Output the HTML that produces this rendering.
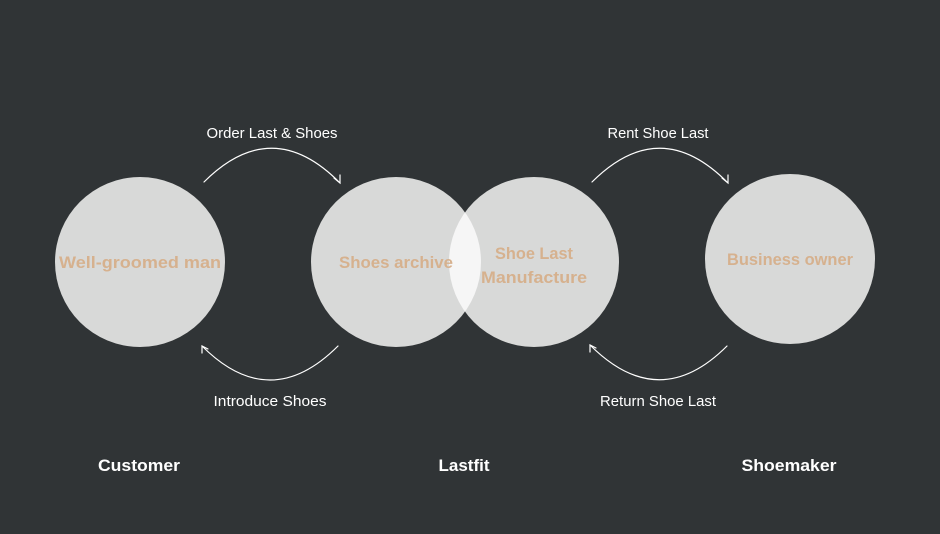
<!DOCTYPE html>
<html><head><meta charset="utf-8"><style>
html,body{margin:0;padding:0;background:#303436;}
svg{display:block}
</style></head><body>
<svg width="940" height="534" xmlns="http://www.w3.org/2000/svg">
<defs><clipPath id="c2"><circle cx="396" cy="262" r="85"/></clipPath></defs>
<rect width="940" height="534" fill="#303436"/>
<circle cx="140" cy="262" r="85" fill="#d8d9d8"/>
<circle cx="396" cy="262" r="85" fill="#d8d9d8"/>
<circle cx="534" cy="262" r="85" fill="#d8d9d8"/>
<circle cx="534" cy="262" r="85" fill="#f6f6f6" clip-path="url(#c2)"/>
<circle cx="790" cy="259" r="85" fill="#d8d9d8"/>
<g fill="none" stroke="#ffffff" stroke-width="1.2" stroke-linecap="round">
<path d="M204 182 Q272 114 340 183"/><path d="M334 178 L340 183 L340 175"/>
<path d="M338 346 Q270 414 202 346"/><path d="M202 353 L202 346 L208 349"/>
<path d="M592 182 Q660 114 728 183"/><path d="M722 178 L728 183 L728 175"/>
<path d="M727 346 Q659 414 590 345"/><path d="M590 352 L590 345 L596 348"/>
</g>
<g font-family="Liberation Sans, sans-serif" font-size="14.5" fill="#ffffff" text-anchor="middle">
<text x="272" y="138" textLength="131" lengthAdjust="spacingAndGlyphs">Order Last &amp; Shoes</text>
<text x="270" y="406" textLength="113" lengthAdjust="spacingAndGlyphs">Introduce Shoes</text>
<text x="658" y="138" textLength="101" lengthAdjust="spacingAndGlyphs">Rent Shoe Last</text>
<text x="658" y="406" textLength="116" lengthAdjust="spacingAndGlyphs">Return Shoe Last</text>
</g>
<g font-family="Liberation Sans, sans-serif" font-size="16.5" font-weight="bold" fill="#d6b18e" text-anchor="middle">
<text x="140" y="268" textLength="162" lengthAdjust="spacingAndGlyphs">Well-groomed man</text>
<text x="396" y="268" textLength="114" lengthAdjust="spacingAndGlyphs">Shoes archive</text>
<text x="534" y="259" textLength="78" lengthAdjust="spacingAndGlyphs">Shoe Last</text>
<text x="534" y="283" textLength="106" lengthAdjust="spacingAndGlyphs">Manufacture</text>
<text x="790" y="265" textLength="126" lengthAdjust="spacingAndGlyphs">Business owner</text>
</g>
<g font-family="Liberation Sans, sans-serif" font-size="16.5" font-weight="bold" fill="#ffffff" text-anchor="middle">
<text x="139" y="471" textLength="82" lengthAdjust="spacingAndGlyphs">Customer</text>
<text x="464" y="471" textLength="51" lengthAdjust="spacingAndGlyphs">Lastfit</text>
<text x="789" y="471" textLength="95" lengthAdjust="spacingAndGlyphs">Shoemaker</text>
</g>
</svg>
</body></html>
